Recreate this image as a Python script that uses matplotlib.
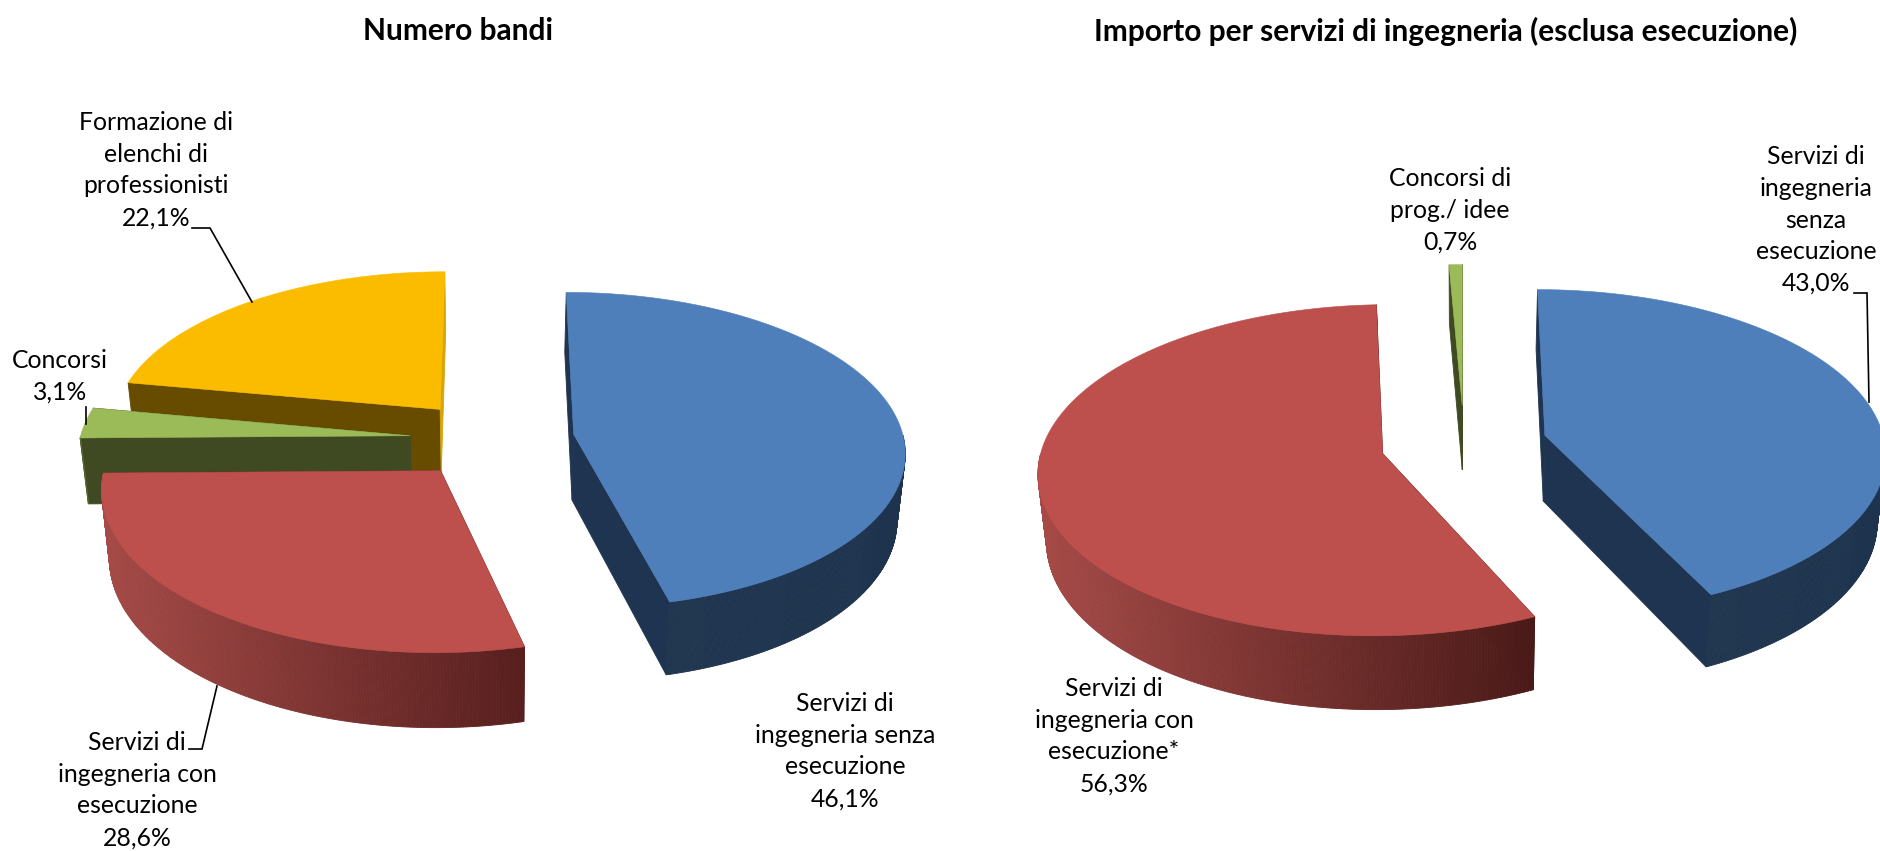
"""
Torte 3D esplose: numero bandi e importo per servizi di ingegneria.
"""

import numpy as np
import matplotlib
matplotlib.use("Agg")
import matplotlib.pyplot as plt

plt.rcParams["font.family"] = ["Lato", "DejaVu Sans"]

L, H = 1881, 851

# --- Dati ---
TITOLO_SX = "Numero bandi"
VOCI_SX = ["Servizi di\ningegneria senza\nesecuzione", "Servizi di\ningegneria con\nesecuzione",
           "Concorsi", "Formazione di\nelenchi di\nprofessionisti"]
VALORI_SX = [46.1, 28.6, 3.1, 22.1]
COLORI_SX = ["blu", "rosso", "verde", "giallo"]

TITOLO_DX = "Importo per servizi di ingegneria (esclusa esecuzione)"
VOCI_DX = ["Servizi di\ningegneria\nsenza\nesecuzione", "Servizi di\ningegneria con\nesecuzione*",
           "Concorsi di\nprog./ idee"]
VALORI_DX = [43.0, 56.3, 0.7]
COLORI_DX = ["blu", "rosso_dx", "verde"]

# colore: piano superiore, taglio iniziale, taglio finale, fianco chiaro, fianco scuro
PALETTE = {"blu": ("#4f7fbb", "#1f3450", "#1f3450", "#21364f", "#1e334e"),
           "rosso": ("#bd4f4c", "#5c2220", "#5c2220", "#a54a47", "#571f1e"),
           "rosso_dx": ("#bd4f4c", "#4a1c1a", "#4a1c1a", "#a54a47", "#4a1a18"),
           "verde": ("#9bbb59", "#3f4a22", "#3f4a22", "#55652f", "#3f4a22"),
           "giallo": ("#fbbc00", "#674c00", "#d7a40a", "#c99700", "#8a6800")}

ESPL = 0.25            # esplosione delle fette
PROSP = 0.10           # prospettiva
SPESS = 66             # spessore
RID = 0.98             # riduzione orizzontale del piano inferiore


def proietta(geo, X, Y, basso=False):
    cx, cy, rx, ry = geo
    s = 1 / (1 - PROSP * Y)
    if basso:
        return cx + rx * X * s * RID, cy + ry * Y * s + SPESS * s
    return cx + rx * X * s, cy + ry * Y * s


def mescola(c1, c2, f):
    a, b = np.array(matplotlib.colors.to_rgb(c1)), np.array(matplotlib.colors.to_rgb(c2))
    return tuple(a + (b - a) * f)


def quad(ax, xs, ys, col):
    ax.fill(xs, ys, facecolor=col, edgecolor=col, linewidth=0.6)


def fetta(ax, geo, t0, t1, colore, espl):
    """Una fetta da t0 a t1 (radianti, senso orario dalle 12)."""
    top, taglio0, taglio1, chiaro, scuro = PALETTE[colore]
    m = (t0 + t1) / 2
    ex, ey = espl * np.sin(m), -espl * np.cos(m)
    t = np.linspace(t0, t1, max(int((t1 - t0) * 120), 4))
    X, Y = ex + np.sin(t), ey - np.cos(t)

    ax_t, ay_t = proietta(geo, ex, ey)
    ax_b, ay_b = proietta(geo, ex, ey, True)

    # facce di taglio
    for i, col in ((0, taglio0), (-1, taglio1)):
        x1, y1 = proietta(geo, X[i], Y[i])
        x2, y2 = proietta(geo, X[i], Y[i], True)
        quad(ax, [ax_t, x1, x2, ax_b], [ay_t, y1, y2, ay_b], col)

    # fianco esterno, solo la parte rivolta in avanti
    xa, ya = proietta(geo, X, Y)
    xb, yb = proietta(geo, X, Y, True)
    fronte = np.where(np.cos(t) < 0)[0]
    if len(fronte) > 1:
        xmin, xmax = xa[fronte].min(), xa[fronte].max()
        for j in fronte[:-1]:
            f = (xa[j] - xmin) / max(xmax - xmin, 1)
            quad(ax, [xa[j], xa[j + 1], xb[j + 1], xb[j]], [ya[j], ya[j + 1], yb[j + 1], yb[j]],
                 mescola(chiaro, scuro, f))

    # piano superiore
    ax.fill(np.r_[ax_t, xa], np.r_[ay_t, ya], facecolor=top, edgecolor=top, linewidth=0.4)


def torta(ax, geo, valori, colori, ordine, espl):
    v = np.array(valori) / sum(valori)
    lim = np.r_[0, np.cumsum(v)] * 2 * np.pi
    for i in ordine:
        fetta(ax, geo, lim[i], lim[i + 1], colori[i], espl)


def perc(v):
    return f"{v:.1f}".replace(".", ",") + "%"


def etichetta(ax, x, y, voce, valore):
    ax.text(x, y, voce + "\n" + perc(valore), ha="center", va="center", fontsize=17.8,
            linespacing=1.46, color="black")


fig = plt.figure(figsize=(L / 100, H / 100), dpi=100)
ax = fig.add_axes([0, 0, 1, 1])
ax.set_xlim(0, L)
ax.set_ylim(H, 0)
ax.axis("off")

torta(ax, (492, 439, 330, 157), VALORI_SX, COLORI_SX, [3, 2, 1, 0], ESPL)
torta(ax, (1464, 444, 340, 162), VALORI_DX, COLORI_DX, [2, 1, 0], 0.245)

ax.text(458, 31, TITOLO_SX, ha="center", va="center", fontsize=21.5, fontweight="bold")
ax.text(1446, 31, TITOLO_DX, ha="center", va="center", fontsize=21.5, fontweight="bold")

etichetta(ax, 156, 170, VOCI_SX[3], VALORI_SX[3])
etichetta(ax, 60, 376, VOCI_SX[2], VALORI_SX[2])
etichetta(ax, 137, 790, VOCI_SX[1], VALORI_SX[1])
etichetta(ax, 845, 751, VOCI_SX[0], VALORI_SX[0])
etichetta(ax, 1450, 210, VOCI_DX[2], VALORI_DX[2])
etichetta(ax, 1816, 220, VOCI_DX[0], VALORI_DX[0])
etichetta(ax, 1114, 736, VOCI_DX[1], VALORI_DX[1])

# linee guida delle etichette
for xs, ys in [([192, 210, 252], [228, 228, 302]),
               ([86, 86], [407, 424]),
               ([189, 202, 217], [749, 749, 686]),
               ([1854, 1867, 1869], [293, 293, 402])]:
    ax.plot(xs, ys, color="black", linewidth=1.2, solid_joinstyle="miter")

fig.savefig("out.png", dpi=100)
